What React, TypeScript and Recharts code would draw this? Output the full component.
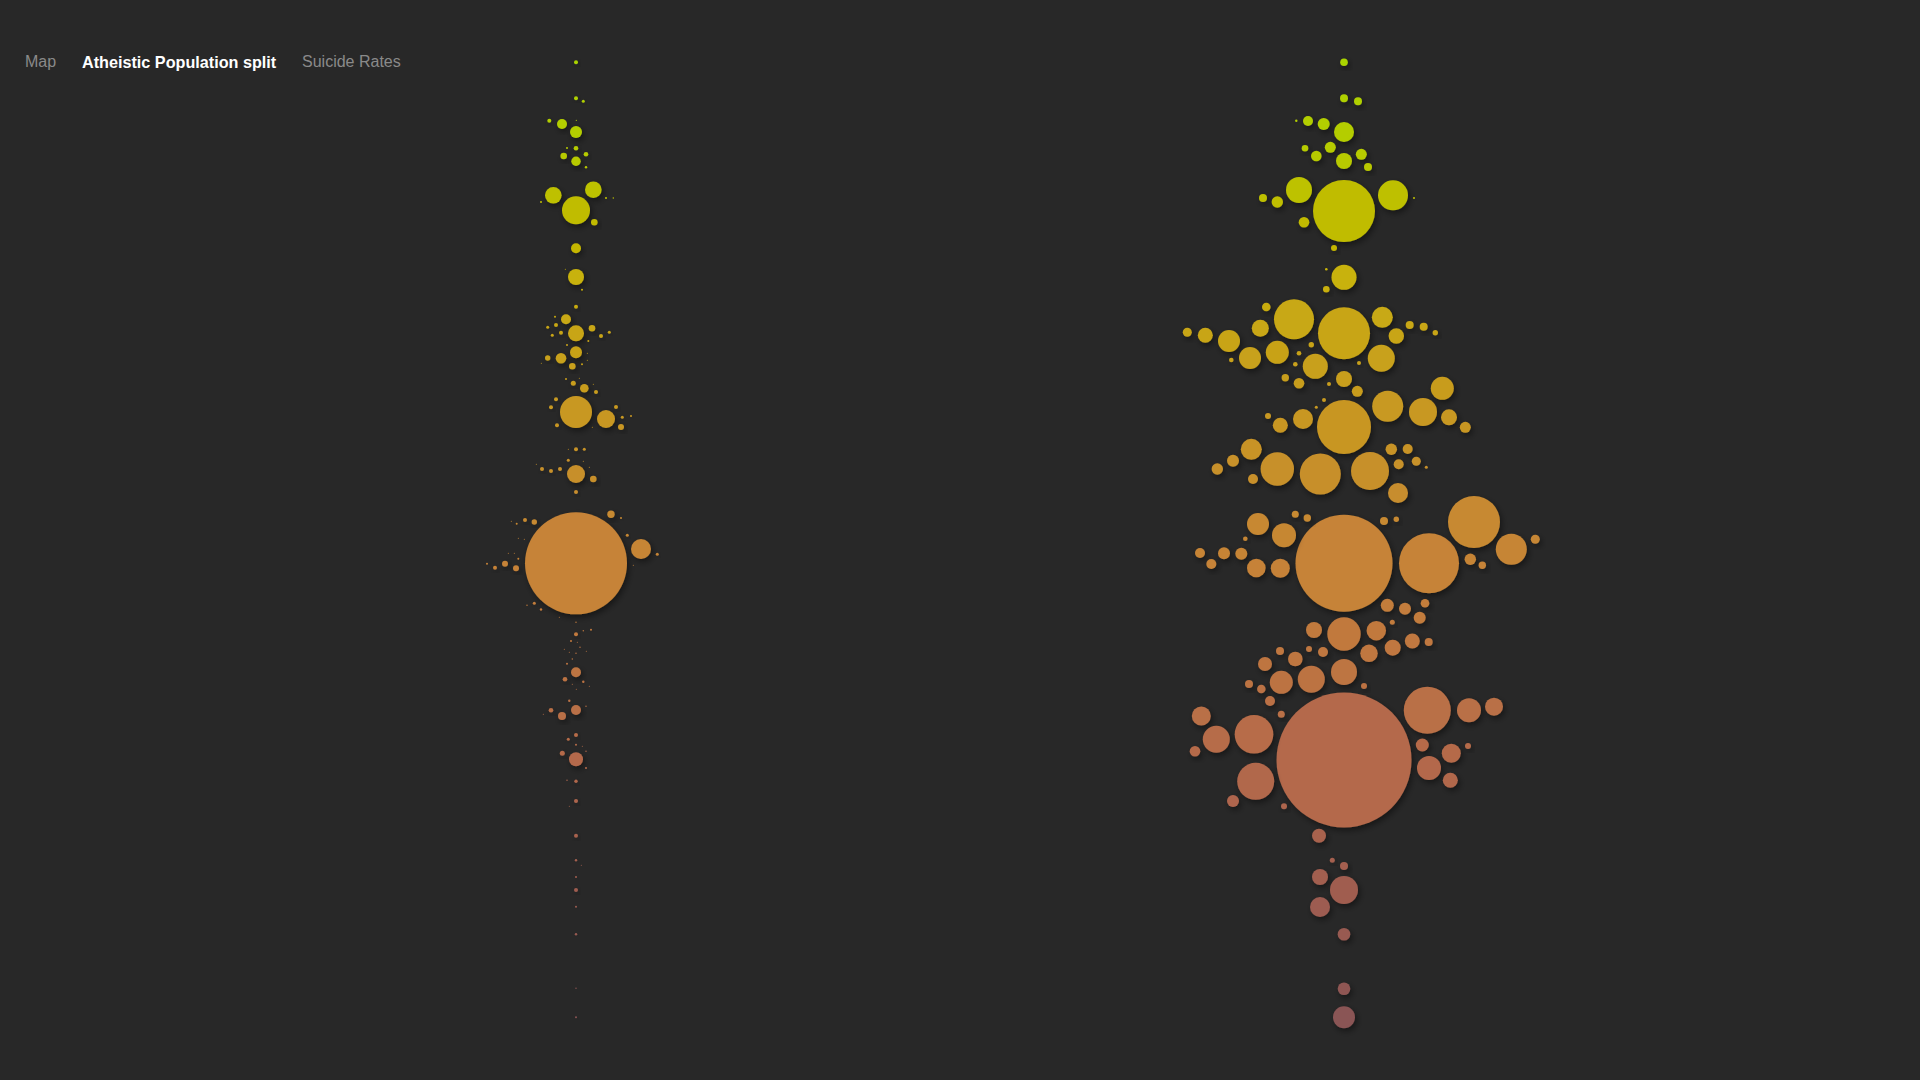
import React from 'react';
import { ScatterChart, Scatter, XAxis, YAxis, ZAxis } from 'recharts';

// each row: [offset from column axis, rate position, bubble radius]
const leftColumn: number[][] = [
  [0, 62.3, 2], [0, 98.3, 2], [7.3, 101.3, 1.5], [-26.7, 120.7, 2], [-14, 124, 5], [0.3, 120.3, 0.6],
  [0, 132, 6], [-9, 148, 1], [0, 148.3, 2.3], [-12.3, 156, 3.3], [10, 154.3, 2.3], [0, 161.3, 4.7],
  [10, 167.3, 1.2], [-22.7, 195.3, 8.3], [17.3, 189.7, 8.3], [0, 210.3, 14], [-35, 202, 1], [30, 198, 1],
  [37.3, 198, 0.7], [18.3, 222.3, 3.3], [0, 248.3, 5], [-10.7, 269.3, 0.5], [0, 277, 8], [6, 289.7, 1],
  [0, 306.7, 2], [-10, 319.3, 5], [-21, 316.7, 1], [-20, 325, 2], [-28.3, 327.3, 1.5], [-15, 332.7, 2],
  [0, 333.3, 8], [16, 328.3, 3.3], [25, 336, 2], [33.3, 332.3, 1.5], [12.3, 341, 1], [-23.7, 335.3, 1.5],
  [-9, 345, 1], [0, 352.3, 6], [-15, 358.3, 5.3], [-28.3, 358, 2.7], [-34.7, 363.3, 0.5], [-3.7, 366.3, 3.3],
  [6, 364.3, 1], [11.3, 353.3, 0.5], [11.3, 360.3, 0.5], [-10, 379, 1], [3.3, 378.3, 0.5], [-2.7, 383.3, 2.5],
  [8.3, 388.3, 4.3], [17.3, 384.3, 0.5], [20, 392, 2], [-20, 399.3, 2], [-25, 407.3, 2], [0, 412, 16],
  [30, 419, 9], [40, 407, 2], [46.3, 417.3, 1.5], [55, 416, 1], [45, 427, 3], [-19, 425.3, 2],
  [16.3, 427.3, 0.5], [0, 449.3, 2], [8.3, 449.3, 1.5], [-7.7, 449.3, 0.5], [-7.7, 460.3, 1.5], [7.3, 461.3, 0.5],
  [13.3, 467.3, 0.5], [-39.7, 464.3, 0.5], [-34, 469, 2], [-25, 471, 2], [-16, 469, 2], [0, 474, 9],
  [17.3, 479, 3.3], [0, 492, 2], [0, 563.3, 51], [35, 514.3, 3.7], [45, 518, 1], [51.3, 535.3, 1.5],
  [65, 549, 10], [81.3, 554.3, 1.5], [57.3, 565.3, 0.5], [-51, 520, 2], [-41.7, 522, 2.7], [-59.3, 523.7, 1],
  [-64.7, 521.3, 0.5], [-57.7, 538.3, 0.5], [-51.7, 539.3, 0.5], [-67.7, 553.3, 0.5], [-61.7, 553.3, 0.5], [-57.7, 558.7, 1],
  [-71, 563.7, 3], [-60, 568.3, 3], [-81, 567.7, 2], [-89, 563.7, 1], [-41.7, 603.3, 1.5], [-49, 605.3, 0.7],
  [-35, 609.5, 1.2], [-16.7, 617.3, 0.5], [0, 622.3, 0.7], [15, 629.8, 1], [0, 634.3, 2], [7.3, 630.7, 0.7],
  [-5, 641, 1], [1.3, 642.3, 0.5], [4, 647.3, 0.7], [-11.7, 649.3, 0.5], [-6.7, 652.3, 0.5], [0, 653.3, 0.7],
  [10.3, 651.3, 0.5], [-3.7, 659, 0.7], [-9, 663.7, 1], [0, 672.3, 5], [-11, 679.3, 2.3], [7.3, 681.7, 1.2],
  [-3.7, 684.3, 0.5], [13.3, 686.3, 0.5], [0.3, 689.3, 0.5], [-6.7, 700.7, 1.2], [0, 710, 5], [-25, 710.3, 2.3],
  [-14, 716, 4], [10, 706.3, 0.7], [-32.7, 714.3, 0.5], [0, 735, 2], [-7.7, 739.3, 1.5], [0, 744.7, 1],
  [6.3, 746.3, 0.5], [10, 751.3, 0.7], [-13.7, 753.3, 2.5], [0, 759.3, 7], [10, 768, 1], [-9, 780.3, 0.7],
  [0, 781.3, 1.7], [0, 801, 2], [-6.7, 806.3, 0.5], [0, 835.7, 2], [0, 860.3, 1.2], [5.3, 865.3, 0.5],
  [0, 877, 1], [0, 890, 2], [0, 906.7, 1], [0, 934.3, 1.2], [0, 988.3, 0.7], [0, 1017.3, 1],
];

const rightColumn: number[][] = [
  [0, 62.3, 3.8], [0, 98.3, 4], [14, 101.3, 4], [-47.7, 120.7, 1.2], [-36, 121, 5], [-20.3, 124, 6],
  [0, 132, 10], [-39, 148.3, 3.3], [-13.7, 147.3, 5.5], [-27.7, 156, 5.3], [17.3, 154.3, 5.5], [0, 161, 8],
  [24, 167, 4], [-81, 198, 4], [-66.7, 202, 5.7], [-45, 190, 13], [0, 211, 31], [49, 195.3, 15],
  [70, 198, 1], [-40, 222.3, 5.3], [-10, 248, 3], [-17.7, 269.3, 1.3], [0, 277.3, 12.5], [-17.7, 289.3, 3.3],
  [-77.7, 307, 4.3], [-50, 319.3, 20], [0, 333.3, 26], [38.3, 317.3, 10.5], [-83.7, 328.3, 8.5], [52.3, 336, 7.7],
  [65.7, 325, 4], [79.7, 326.7, 4], [91.3, 332.7, 2.7], [-156.7, 332.3, 4.5], [-138.7, 335.3, 7.5], [-115, 341, 11],
  [-112.7, 360, 2.3], [-94, 358, 11], [-66.7, 352.3, 11.5], [-45, 353.3, 2.3], [-32.7, 344.7, 2.7], [-48.7, 364.3, 2.3],
  [-28.7, 366.3, 12.5], [15, 363, 2], [37.3, 358.3, 13.5], [-58.7, 377.7, 3.7], [-45, 383.3, 5.3], [0, 379, 8],
  [-15, 384, 2], [13.3, 391.3, 5.5], [-20, 400, 2], [-27.7, 407.3, 1.5], [-76, 416, 3], [-63.7, 425.3, 7.5],
  [-41, 419, 10], [0, 427, 27], [43.7, 406.3, 15.5], [79, 412, 14], [98.3, 388.3, 11.5], [105, 417.3, 8],
  [121.3, 427.3, 5.5], [-92.7, 449.3, 10.5], [-111, 460.7, 6], [-126.7, 469, 5.7], [-91, 479, 5], [-66.7, 469, 16.7],
  [-23.7, 474, 20.5], [26, 471, 19], [47.3, 449.3, 5.7], [63.7, 449, 5], [54.7, 464.3, 5], [72.3, 461.3, 4.5],
  [82.3, 467.3, 1.5], [54, 493, 10], [0, 563.3, 48.5], [-86, 524, 11], [-60, 535.3, 12], [-48.7, 514.3, 3.5],
  [-36.7, 518, 3.7], [-98.7, 538.7, 2.3], [-144, 553, 5], [-132.7, 564, 5], [-120, 553.3, 6], [-102.7, 553.7, 6],
  [-87.7, 568, 9.3], [-63.7, 568.3, 9.5], [40, 521, 4], [52.3, 519.3, 2.7], [85, 563.3, 30], [130, 522, 26],
  [167.3, 549.3, 15.5], [191.3, 539.3, 4.5], [126.3, 559.3, 5.7], [138.3, 565.3, 3.7], [43.3, 605.3, 6.5], [61, 608.7, 6],
  [81, 603.3, 4.3], [75.7, 617.7, 6], [48.3, 622.3, 2.5], [-30, 630, 8], [0, 634, 16.7], [32.3, 630.7, 9.7],
  [68.3, 641, 7.5], [84.7, 642, 4], [48.7, 647.7, 8], [25, 653.3, 8.7], [-21, 652, 5], [-35, 649, 3],
  [-48.7, 659, 7.3], [-64, 651, 4], [-79, 664, 7], [0, 672, 13], [-32.7, 679.3, 13.5], [-62.7, 682.3, 11.5],
  [-82.7, 689, 4.3], [-95, 684, 4], [-74, 701, 5], [-62.7, 714.3, 3.5], [20, 686, 3], [0, 760, 67.5],
  [83.3, 710.3, 23.5], [125, 710.3, 12], [150, 706.7, 9], [-142.7, 716, 9.5], [-127.7, 739.3, 13.5], [-90, 734.3, 19.3],
  [-149, 751.3, 5.3], [-88.3, 781.3, 18.5], [-111, 801, 6], [-60, 806.3, 3], [78.3, 745, 6.5], [107.3, 753.3, 9.5],
  [124, 746, 3], [85, 768, 12], [106.3, 780.3, 7.5], [-25, 835.7, 7], [-11.7, 860.3, 2.5], [0, 866, 4],
  [-24, 877, 8], [0, 890, 14], [-24, 907, 10], [0, 934.3, 6.3], [0, 988.7, 6.3], [0, 1017.3, 11],
];

const navItems = ['Map', 'Atheistic Population split', 'Suicide Rates'];
const activeNav = 'Atheistic Population split';

// colour ramp along the vertical axis
const colorStops: [number, number[]][] = [
  [62, [170, 212, 0]],
  [160, [184, 202, 0]],
  [211, [192, 188, 0]],
  [277, [200, 178, 10]],
  [333, [200, 165, 22]],
  [427, [200, 150, 36]],
  [563, [198, 131, 55]],
  [634, [193, 121, 62]],
  [760, [180, 105, 75]],
  [890, [160, 93, 80]],
  [1017, [138, 84, 84]],
];

const rampColor = (y: number) => {
  if (y <= colorStops[0][0]) return `rgb(${colorStops[0][1].join(',')})`;
  for (let i = 1; i < colorStops.length; i++) {
    const [y1, c1] = colorStops[i];
    const [y0, c0] = colorStops[i - 1];
    if (y <= y1) {
      const t = (y - y0) / (y1 - y0);
      const c = c0.map((v, k) => Math.round(v + (c1[k] - v) * t));
      return `rgb(${c.join(',')})`;
    }
  }
  return `rgb(${colorStops[colorStops.length - 1][1].join(',')})`;
};

const toPoints = (rows: number[][]) =>
  rows.map(([offset, rate, radius]) => ({ offset, rate, weight: radius * radius }));

const Bubble = (props: any) => {
  const { cx, cy, width } = props;
  if (cx == null || cy == null) return null;
  const r = width / 2;
  return <circle cx={cx} cy={cy} r={r} fill={rampColor(cy)} filter="url(#bubbleShadow)" />;
};

const navLeft = [25, 82, 302];

const App: React.FC = () => {
  const leftData = toPoints(leftColumn);
  const rightData = toPoints(rightColumn);

  return (
    <div style={{ position: 'fixed', left: 0, top: 0, width: 1920, height: 1080, background: '#282828', overflow: 'hidden' }}>
      <svg width={0} height={0} style={{ position: 'absolute' }}>
        <defs>
          <filter id="bubbleShadow" x="-60%" y="-60%" width="220%" height="220%">
            <feDropShadow dx="2" dy="3" stdDeviation="3" floodColor="#000" floodOpacity="0.45" />
          </filter>
        </defs>
      </svg>

      {navItems.map((item, i) => (
        <div
          key={item}
          style={{
            position: 'absolute',
            left: navLeft[i],
            top: 53,
            fontFamily: '"Liberation Sans", Arial, sans-serif',
            fontSize: item === activeNav ? 16.2 : 16,
            fontWeight: item === activeNav ? 'bold' : 'normal',
            color: item === activeNav ? '#ffffff' : '#8a8a8a',
            whiteSpace: 'nowrap',
          }}
        >
          {item}
        </div>
      ))}

      <div style={{ position: 'absolute', left: 0, top: 0 }}>
        <ScatterChart width={1920} height={1080} margin={{ top: 0, right: 0, bottom: 0, left: 0 }}>
          <XAxis xAxisId="left" type="number" dataKey="offset" domain={[-576, 1344]} hide />
          <XAxis xAxisId="right" type="number" dataKey="offset" domain={[-1344, 576]} hide />
          <YAxis type="number" dataKey="rate" domain={[0, 1080]} reversed hide />
          <ZAxis type="number" dataKey="weight" domain={[0, 10000]} range={[0, 10000 * Math.PI]} />
          <Scatter xAxisId="left" data={leftData} shape={Bubble} isAnimationActive={false} />
          <Scatter xAxisId="right" data={rightData} shape={Bubble} isAnimationActive={false} />
        </ScatterChart>
      </div>
    </div>
  );
};

export default App;
